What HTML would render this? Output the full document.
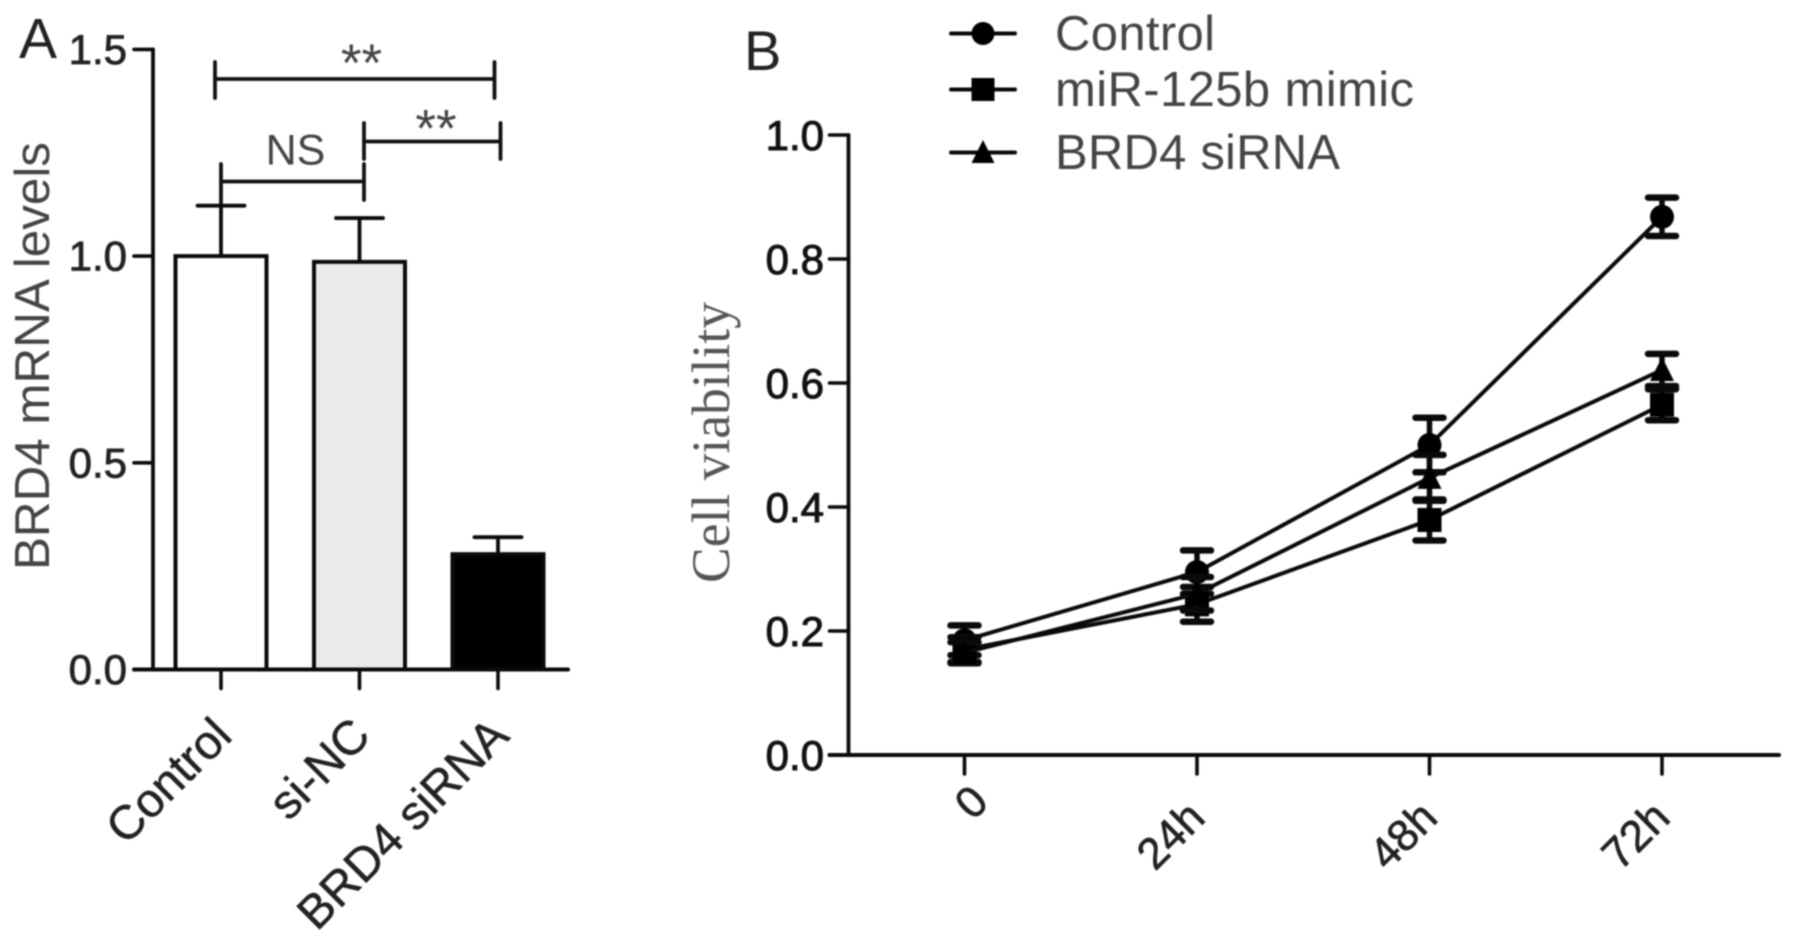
<!DOCTYPE html>
<html lang="en">
<head>
<meta charset="utf-8">
<title>BRD4 mRNA levels and cell viability</title>
<style>
html,body{margin:0;padding:0;background:#fff;width:1795px;height:946px;overflow:hidden}
svg{display:block;filter:blur(0.8px)}
text{font-family:"Liberation Sans",sans-serif}
</style>
</head>
<body>
<svg id="fig" xmlns="http://www.w3.org/2000/svg" width="1795" height="946" viewBox="0 0 1795 946">
  <rect width="1795" height="946" fill="#fff"/>
  <text x="19" y="58" font-size="57" fill="#222">A</text>
  <text x="744" y="70" font-size="56" fill="#222">B</text>
  <text transform="translate(49,570) rotate(-90)" font-size="49" fill="#444" textLength="428" lengthAdjust="spacingAndGlyphs">BRD4 mRNA levels</text>
  <text transform="translate(729,583) rotate(-90)" font-size="54" fill="#555" style="font-family:'Liberation Serif',serif" textLength="281" lengthAdjust="spacingAndGlyphs">Cell viability</text>

  <g stroke="#111" stroke-width="3.8" fill="none" stroke-linecap="round">
    <path d="M215 62V98M215 79H494.5M494.5 62V98"/>
    <path d="M364 123V159M364 141.5H500.5M500.5 123V159"/>
    <path d="M221 164V206M221 181.5H364M364 164V200"/>
  </g>
  <text x="361.5" y="81" font-size="53" fill="#444" text-anchor="middle">**</text>
  <text x="436" y="146.5" font-size="53" fill="#444" text-anchor="middle">**</text>
  <text x="295.5" y="164.5" font-size="43" fill="#444" text-anchor="middle">NS</text>
  <g id="chartA"></g>
  <g id="chartB"></g>
  <g id="legendB"></g>
</svg>
<script>
// Panel A data
const barCategories = ['Control', 'si-NC', 'BRD4 siRNA'];
const barValues = [1.0, 0.986, 0.279];
const barErrors = [0.122, 0.106, 0.041];
const barFills = ['#ffffff', '#eaeaea', '#000000'];
const barTicks = [0, 0.5, 1.0, 1.5];
const barTickLabels = ['0.0', '0.5', '1.0', '1.5'];

// Panel B data
const timeLabels = ['0', '24h', '48h', '72h'];
const controlValues = [0.185, 0.295, 0.5, 0.868];
const controlErrors = [0.024, 0.035, 0.044, 0.031];
const mimicValues = [0.17, 0.243, 0.379, 0.565];
const mimicErrors = [0.02, 0.028, 0.033, 0.025];
const sirnaValues = [0.165, 0.26, 0.447, 0.621];
const sirnaErrors = [0.017, 0.027, 0.037, 0.026];
const lineTicks = [0, 0.2, 0.4, 0.6, 0.8, 1.0];
const lineTickLabels = ['0.0', '0.2', '0.4', '0.6', '0.8', '1.0'];
const seriesNames = ['Control', 'miR-125b mimic', 'BRD4 siRNA'];

const NS = 'http://www.w3.org/2000/svg';
const INK = '#0a0a0a';
function mk(parent, tag, attrs, text) {
  const el = document.createElementNS(NS, tag);
  for (const k in attrs) el.setAttribute(k, attrs[k]);
  if (text !== undefined) el.textContent = text;
  parent.appendChild(el);
  return el;
}
function lineAttrs(x1, y1, x2, y2, w) {
  return {x1, y1, x2, y2, stroke: INK, 'stroke-width': w, 'stroke-linecap': 'round'};
}

// ---------- Panel A ----------
const chartA = document.getElementById('chartA');
const yA = v => 669.5 - 413.4 * v;
const xA = i => 221 + 138.5 * i;
const BAR_W = 91;

barCategories.forEach((name, i) => {
  const cx = xA(i);
  const top = yA(barValues[i]);
  const errTop = yA(barValues[i] + barErrors[i]);
  const stem = mk(chartA, 'line', lineAttrs(cx, top, cx, errTop, 3.8));
  
  
  const cap = mk(chartA, 'line', lineAttrs(cx - 23.5, errTop, cx + 23.5, errTop, 3.8));
  
  
  const bar = mk(chartA, 'rect', {x: cx - BAR_W / 2, y: top, width: BAR_W, height: yA(0) - top, fill: barFills[i], stroke: INK, 'stroke-width': 4});
  
  
  const tick = mk(chartA, 'line', lineAttrs(cx, yA(0), cx, yA(0) + 19, 3.6));
  
  
  const labelX = cx + 13;
  const labelY = 738;
  const label = mk(chartA, 'text', {transform: `translate(${labelX},${labelY}) rotate(-45)`, 'text-anchor': 'end', 'font-size': 47.5, fill: '#222', stroke: '#222', 'stroke-width': 0.5}, name);
  
  
});

const axisAY = mk(chartA, 'line', lineAttrs(153, yA(1.5), 153, yA(0), 3.8));


const axisAX = mk(chartA, 'line', lineAttrs(134, yA(0), 568, yA(0), 4));


barTicks.forEach((t, i) => {
  const tick = mk(chartA, 'line', lineAttrs(134, yA(t), 153, yA(t), 3.6));
  
  
  const label = mk(chartA, 'text', {x: 127, y: yA(t) + 14.5, 'text-anchor': 'end', 'font-size': 42, fill: '#222', stroke: '#222', 'stroke-width': 0.8}, barTickLabels[i]);
  
  
});

// ---------- Panel B ----------
const chartB = document.getElementById('chartB');
const yB = v => 755 - 620 * v;
const xB = i => 964.5 + 232.5 * i;

function marker(parent, kind, cx, cy, r) {
  if (kind === 'circle') return mk(parent, 'circle', {cx, cy, r, fill: '#000'});
  if (kind === 'square') return mk(parent, 'rect', {x: cx - r, y: cy - r, width: 2 * r, height: 2 * r, fill: '#000'});
  return mk(parent, 'path', {d: `M${cx} ${cy - r - 1}L${cx + r} ${cy + r - 1}H${cx - r}Z`, fill: '#000'});
}

function drawSeries(name, kind, values, errors) {
  const g = mk(chartB, 'g', {});
  
  
  const pts = values.map((v, i) => xB(i) + ',' + yB(v)).join(' ');
  const line = mk(g, 'polyline', {points: pts, fill: 'none', stroke: INK, 'stroke-width': 4});
  
  
  values.forEach((v, i) => {
    const x = xB(i);
    const hi = yB(v + errors[i]);
    const lo = yB(v - errors[i]);
    const stem = mk(g, 'line', lineAttrs(x, hi, x, lo, 5.5));
    
    
    const capHi = mk(g, 'line', lineAttrs(x - 14, hi, x + 14, hi, 6.5));
    
    
    const capLo = mk(g, 'line', lineAttrs(x - 14, lo, x + 14, lo, 6.5));
    
    
    const m = marker(g, kind, x, yB(v), 12);
    
    
  });
}
drawSeries('control', 'circle', controlValues, controlErrors);
drawSeries('mir-125b-mimic', 'square', mimicValues, mimicErrors);
drawSeries('brd4-sirna', 'triangle', sirnaValues, sirnaErrors);

const axisBY = mk(chartB, 'line', lineAttrs(848.5, yB(1), 848.5, yB(0), 3.8));


const axisBX = mk(chartB, 'line', lineAttrs(829.5, yB(0), 1779, yB(0), 4));


lineTicks.forEach((t, i) => {
  const tick = mk(chartB, 'line', lineAttrs(829.5, yB(t), 848.5, yB(t), 3.6));
  
  
  const label = mk(chartB, 'text', {x: 824, y: yB(t) + 15, 'text-anchor': 'end', 'font-size': 42, fill: '#111', stroke: '#111', 'stroke-width': 1}, lineTickLabels[i]);
  
  
});
timeLabels.forEach((name, i) => {
  const x = xB(i);
  const tick = mk(chartB, 'line', lineAttrs(x, yB(0), x, yB(0) + 19, 3.6));
  
  
  const ax = x + (i === 0 ? 26 : 10);
  const ay = i === 0 ? 804 : 820;
  const label = mk(chartB, 'text', {transform: `translate(${ax},${ay}) rotate(-45)`, 'text-anchor': 'end', 'font-size': 44, fill: '#222', stroke: '#222', 'stroke-width': 0.7}, name);
  
  
});

// ---------- Legend ----------
const legendB = document.getElementById('legendB');
const legendKinds = ['circle', 'square', 'triangle'];
const legendRowsY = [33.5, 89.5, 152.5];
const legendBaselines = [50, 106, 169];
const legendWidths = [160, 359, 285];
seriesNames.forEach((name, i) => {
  const y = legendRowsY[i];
  const ln = mk(legendB, 'line', lineAttrs(951, y, 1015, y, 4));
  
  
  const m = marker(legendB, legendKinds[i], 983, y, 11.5);
  
  
  const t = mk(legendB, 'text', {x: 1055, y: legendBaselines[i], 'font-size': 49, fill: '#444', textLength: legendWidths[i], lengthAdjust: 'spacing'}, name);
  
  
});
</script>
</body>
</html>
